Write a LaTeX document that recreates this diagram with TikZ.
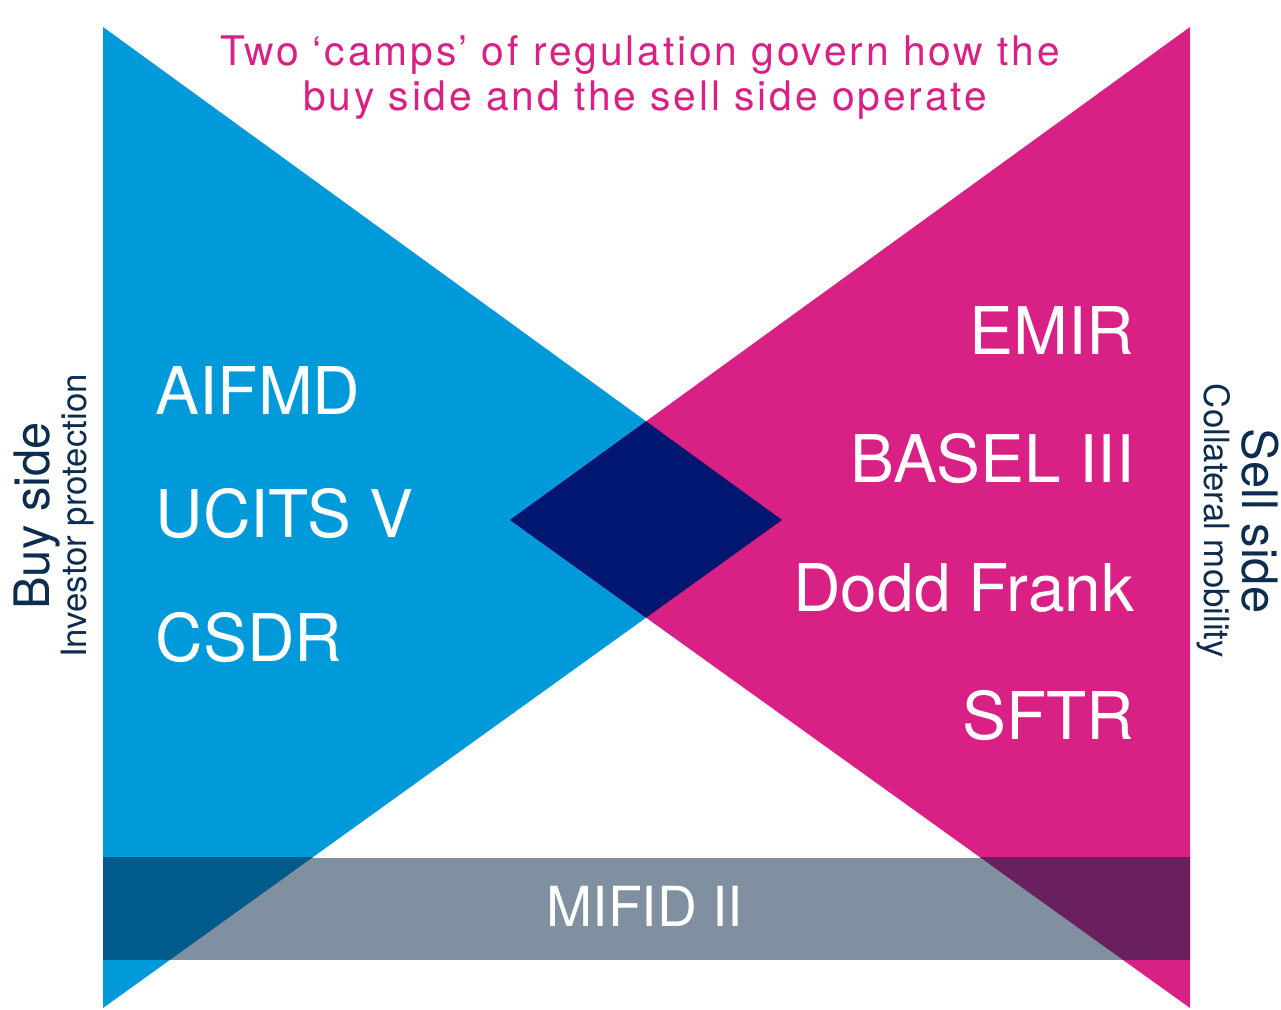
\documentclass[tikz,border=0pt]{standalone}
\usepackage{fontspec}
\setmainfont{TeX Gyre Heros}
\newfontfamily\headfont[LetterSpace=7]{TeX Gyre Heros}
\usetikzlibrary{positioning}

\definecolor{buyblue}{RGB}{0,154,218}
\definecolor{sellpink}{RGB}{217,32,132}
\definecolor{bothnavy}{RGB}{0,22,112}
\definecolor{bandgray}{RGB}{129,144,160}
\definecolor{buyband}{RGB}{0,90,140}
\definecolor{sellband}{RGB}{106,31,94}
\definecolor{sidetext}{RGB}{13,45,80}

\begin{document}
\begin{tikzpicture}[
    x=0.01cm, y=-0.01cm,
    % --- text styles ---
    reg/.style  = {text=white, inner sep=0pt,
                   font=\fontsize{18.7}{22}\selectfont},
    band/.style = {text=white, inner sep=0pt,
                   font=\fontsize{15.7}{18}\selectfont},
    side/.style = {text=sidetext, inner sep=0pt,
                   font=\fontsize{13.9}{16}\selectfont},
    sub/.style  = {text=sidetext, inner sep=0pt,
                   font=\fontsize{9.9}{12}\selectfont},
    head/.style = {text=sellpink, inner sep=0pt,
                   font=\headfont\fontsize{11.6}{13}\selectfont},
]
\useasboundingbox (0,0) rectangle (1281,1010);

%============ TRIANGLES ============
\coordinate (btop) at (103,27);
\coordinate (bbot) at (103,1008);
\coordinate (btip) at (782,520);
\coordinate (stop) at (1190,27);
\coordinate (sbot) at (1190,1008);
\coordinate (stip) at (510,520);

\fill[buyblue]  (btop) -- (bbot) -- (btip) -- cycle;
\fill[sellpink] (stop) -- (sbot) -- (stip) -- cycle;

% overlap of both camps
\begin{scope}
  \clip (btop) -- (bbot) -- (btip) -- cycle;
  \fill[bothnavy] (stop) -- (sbot) -- (stip) -- cycle;
\end{scope}

%============ MIFID BAND ============
\fill[bandgray] (103,858) rectangle (1190,960);
\begin{scope}
  \clip (103,858) rectangle (1190,960);
  \fill[buyband]  (btop) -- (bbot) -- (btip) -- cycle;
  \fill[sellband] (stop) -- (sbot) -- (stip) -- cycle;
\end{scope}
\node (mifid) [band, anchor=base] at (645,927) {MIFID II};

%============ TITLE ============
\node (head1) [head, anchor=base] at (640,66)
  {Two ‘camps’ of regulation govern how the};
\node (head2) [head, anchor=base] at (645,111)
  {buy side and the sell side operate};

%============ BUY SIDE ============
\node (aifmd) [reg, anchor=base west] at (155,415) {AIFMD};
\node (ucits) [reg, anchor=base west] at (155,538) {UCITS V};
\node (csdr)  [reg, anchor=base west] at (155,662) {CSDR};

\node (buy)      [side, rotate=90, anchor=base] at (50,516) {Buy side};
\node (investor) [sub,  rotate=90, anchor=base] at (87,516) {Investor protection};

%============ SELL SIDE ============
\node (emir)  [reg, anchor=base east] at (1135,355) {EMIR};
\node (basel) [reg, anchor=base east] at (1135,483) {BASEL III};
\node (dodd)  [reg, anchor=base east] at (1135,612) {Dodd Frank};
\node (sftr)  [reg, anchor=base east] at (1135,740) {SFTR};

\node (sell)       [side, rotate=-90, anchor=base] at (1242,521) {Sell side};
\node (collateral) [sub,  rotate=-90, anchor=base] at (1204,521) {Collateral mobility};

\end{tikzpicture}
\end{document}
